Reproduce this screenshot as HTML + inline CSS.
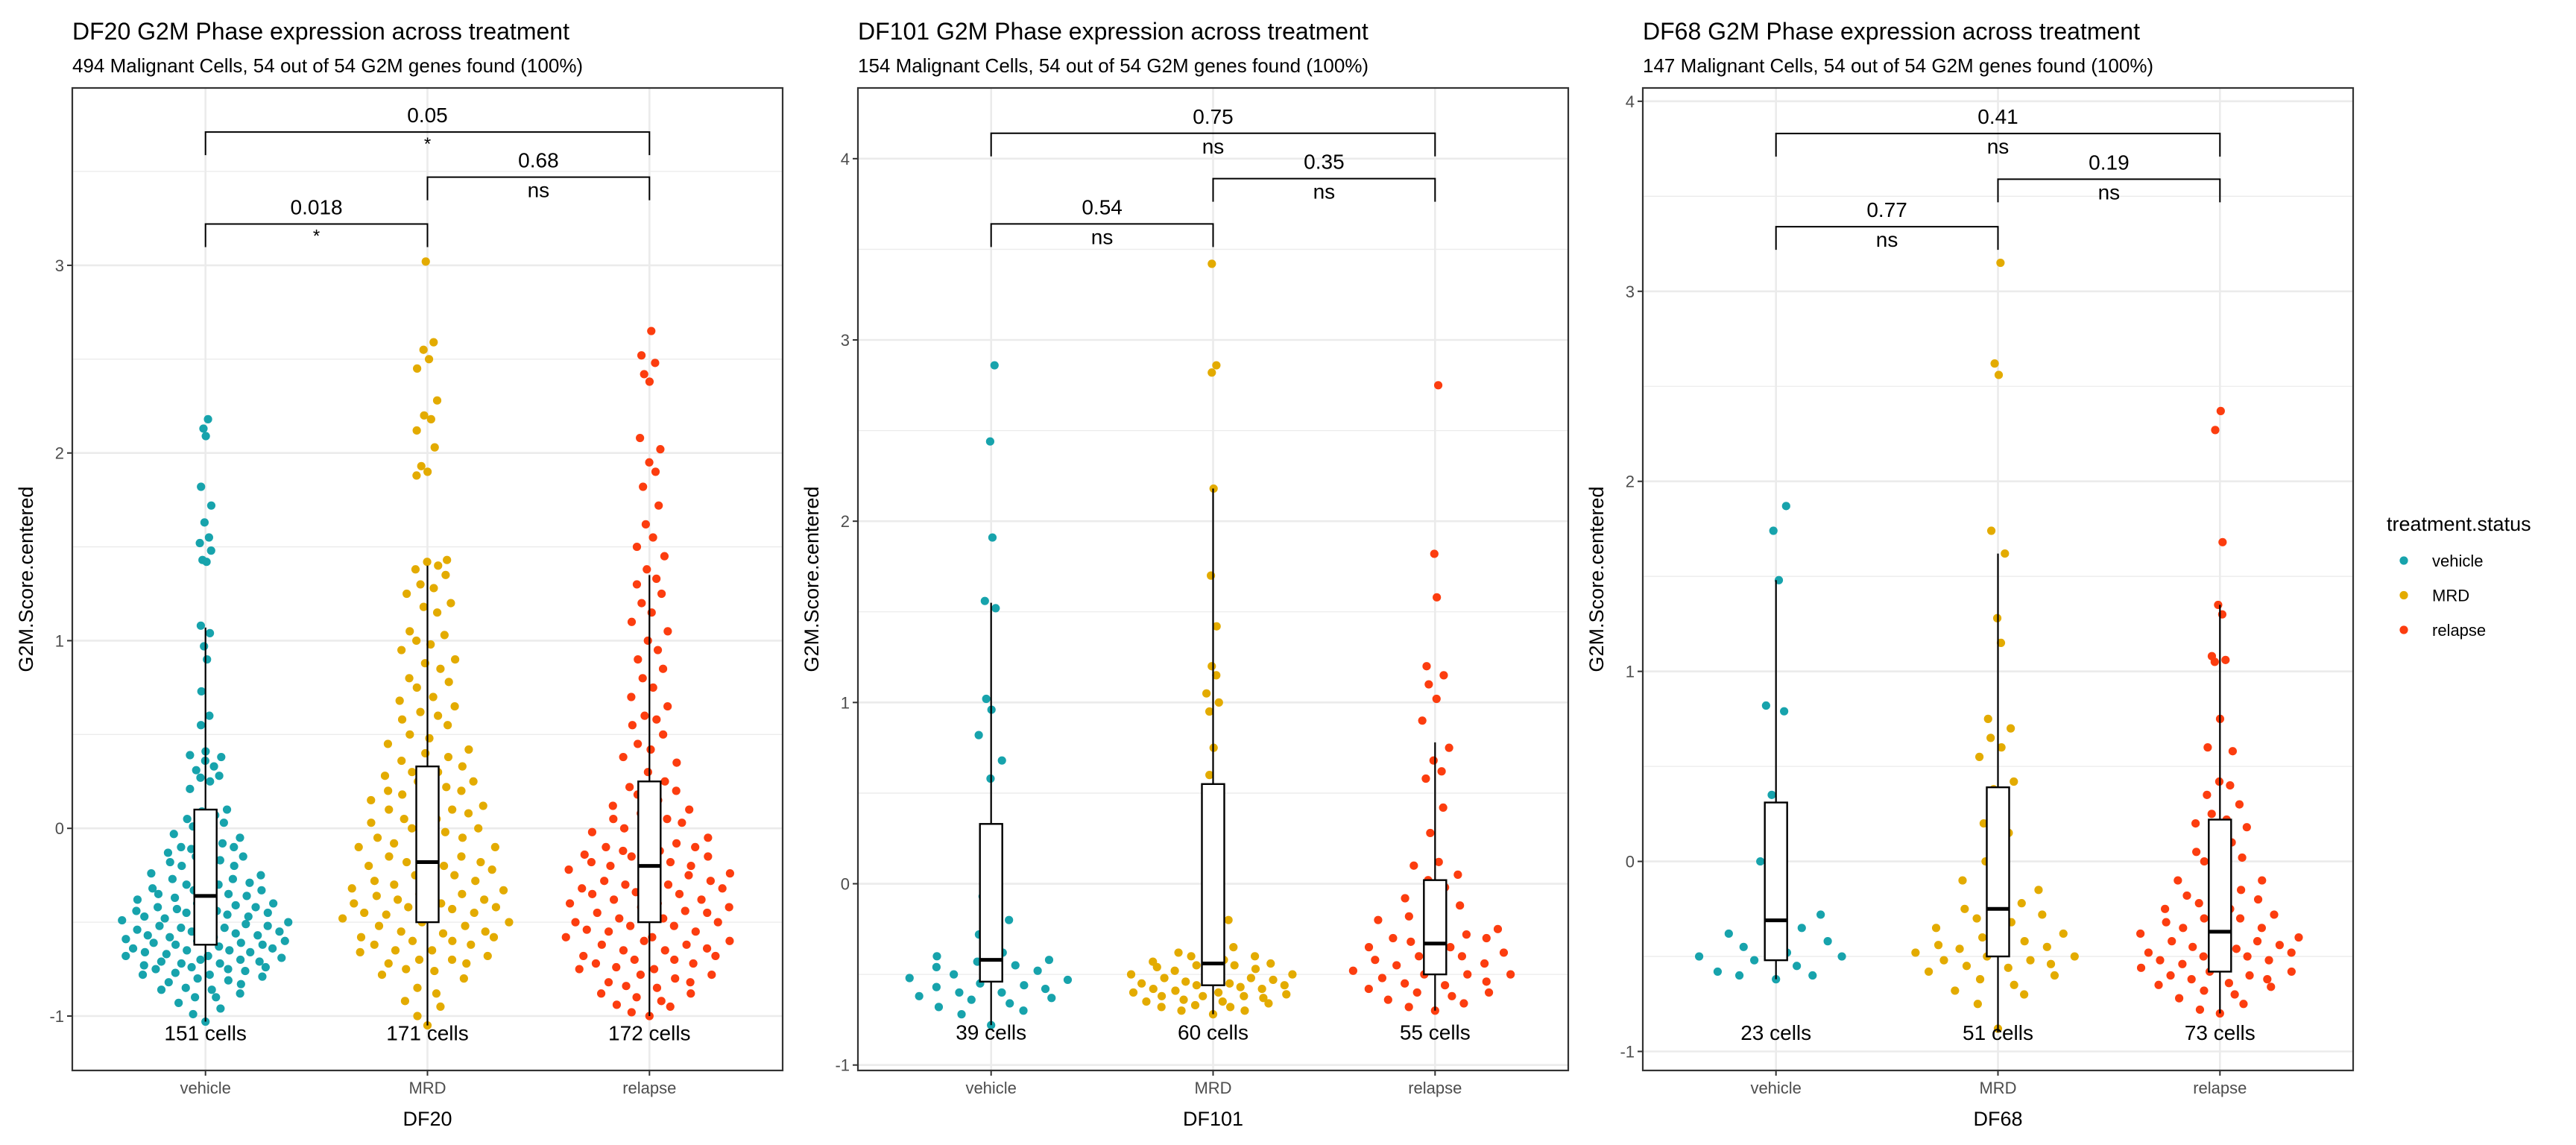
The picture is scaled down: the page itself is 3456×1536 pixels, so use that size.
<!DOCTYPE html>
<html><head><meta charset="utf-8">
<style>
html,body{margin:0;padding:0;background:#fff;}
svg{display:block;font-family:"Liberation Sans",Arial,sans-serif;}
</style></head>
<body>
<svg id="chart" width="3456" height="1536" viewBox="0 0 3456 1536" xmlns="http://www.w3.org/2000/svg"></svg>
<script>
// ---- data ----
const categories = ["vehicle","MRD","relapse"];
const panelNames = ["DF20","DF101","DF68"];
const titles = ["DF20 G2M Phase expression across treatment","DF101 G2M Phase expression across treatment","DF68 G2M Phase expression across treatment"];
const subtitles = ["494 Malignant Cells, 54 out of 54 G2M genes found (100%)","154 Malignant Cells, 54 out of 54 G2M genes found (100%)","147 Malignant Cells, 54 out of 54 G2M genes found (100%)"];
const cellCounts = [[151,171,172],[39,60,55],[23,51,73]];
const yTicks = [[-1,0,1,2,3],[-1,0,1,2,3,4],[-1,0,1,2,3,4]];
const yDomain = [[-1.29,3.945],[-1.03,4.39],[-1.10,4.07]];
const pVals = [["0.018","0.68","0.05"],["0.54","0.35","0.75"],["0.77","0.19","0.41"]];
const pSig = [["*","ns","*"],["ns","ns","ns"],["ns","ns","ns"]];
const bracketY = [[3.22,3.47,3.71],[3.64,3.89,4.14],[3.34,3.59,3.83]];
const cellLabelY = [-1.13,-0.86,-0.94];
// box stats: [whiskerLow, Q1, median, Q3, whiskerHigh]
const boxDF20 = [[-1.03,-0.62,-0.36,0.1,1.07],[-1.05,-0.5,-0.18,0.33,1.4],[-1.0,-0.5,-0.2,0.25,1.35]];
const boxDF101 = [[-0.78,-0.54,-0.42,0.33,1.55],[-0.72,-0.56,-0.44,0.55,2.18],[-0.7,-0.5,-0.33,0.02,0.78]];
const boxDF68 = [[-0.62,-0.52,-0.31,0.31,1.48],[-0.9,-0.5,-0.25,0.39,1.62],[-0.8,-0.58,-0.37,0.22,1.35]];
const df20Vehicle = [2.18,2.13,2.09,1.82,1.72,1.63,1.55,1.52,1.48,1.43,1.42,1.08,1.04,0.97,0.9,0.73,0.6,0.55,0.41,0.39,0.38,0.36,0.33,0.31,0.28,0.27,0.25,0.21,0.1,0.09,0.07,0.05,0.03,0.01,-0.01,-0.03,-0.06,-0.08,-0.1,-0.11,-0.13,-0.15,-0.17,-0.18,-0.2,-0.22,-0.24,-0.26,-0.27,-0.29,-0.3,-0.32,-0.33,-0.35,-0.36,-0.37,-0.38,-0.4,-0.41,-0.42,-0.43,-0.44,-0.45,-0.46,-0.47,-0.48,-0.49,-0.5,-0.51,-0.52,-0.53,-0.54,-0.55,-0.56,-0.57,-0.58,-0.59,-0.6,-0.61,-0.62,-0.63,-0.64,-0.65,-0.66,-0.67,-0.68,-0.69,-0.7,-0.71,-0.72,-0.73,-0.74,-0.75,-0.76,-0.77,-0.78,-0.79,-0.8,-0.81,-0.83,-0.85,-0.86,-0.88,-0.9,-0.93,-0.96,-0.99,-1.03,-0.35,-0.42,-0.45,-0.5,-0.55,-0.58,-0.6,-0.62,-0.66,-0.7,-0.72,-0.75,-0.4,-0.3,-0.2,-0.15,-0.48,-0.52,-0.64,-0.68,-0.78,-0.82,-0.25,-0.1,-0.05,-0.57,-0.61,-0.44,-0.38,-0.33,-0.12,-0.86,-0.9,-0.74,-0.53,-0.47,-0.27,-0.71,-0.65];
const df20MRD = [3.02,2.59,2.55,2.5,2.45,2.28,2.2,2.18,2.12,2.03,1.93,1.9,1.88,1.43,1.42,1.4,1.38,1.35,1.3,1.28,1.25,1.2,1.18,1.15,1.05,1.03,1.0,0.98,0.95,0.9,0.88,0.85,0.8,0.78,0.75,0.7,0.68,0.65,0.62,0.6,0.58,0.55,0.5,0.48,0.45,0.42,0.4,0.38,0.36,0.33,0.3,0.28,0.25,0.22,0.2,0.18,0.15,0.12,0.1,0.08,0.05,0.03,0.0,-0.02,-0.05,-0.08,-0.1,-0.12,-0.15,-0.18,-0.2,-0.22,-0.25,-0.28,-0.3,-0.32,-0.35,-0.38,-0.4,-0.42,-0.45,-0.48,-0.5,-0.52,-0.55,-0.58,-0.6,-0.62,-0.65,-0.68,-0.7,-0.72,-0.75,-0.78,-0.8,-0.85,-0.88,-0.92,-0.95,-1.0,-1.05,-0.3,-0.35,-0.4,-0.42,-0.45,-0.5,-0.55,-0.6,-0.62,-0.65,-0.7,-0.38,-0.28,-0.2,-0.15,-0.1,0.0,0.05,0.1,0.15,0.2,-0.48,-0.52,-0.58,-0.72,-0.25,-0.33,-0.43,-0.05,0.25,0.3,-0.18,-0.08,0.12,-0.36,-0.46,-0.56,-0.66,-0.76];
const df20Relapse = [2.65,2.52,2.48,2.42,2.38,2.08,2.02,1.95,1.9,1.82,1.72,1.62,1.55,1.5,1.45,1.38,1.33,1.3,1.25,1.2,1.15,1.1,1.05,1.0,0.95,0.9,0.85,0.8,0.75,0.7,0.65,0.6,0.58,0.55,0.5,0.45,0.42,0.38,0.35,0.3,0.25,0.2,0.15,0.1,0.05,0.03,0.0,-0.02,-0.05,-0.08,-0.1,-0.12,-0.15,-0.18,-0.2,-0.22,-0.25,-0.28,-0.3,-0.32,-0.35,-0.38,-0.4,-0.42,-0.45,-0.48,-0.5,-0.52,-0.55,-0.58,-0.6,-0.62,-0.65,-0.68,-0.7,-0.72,-0.75,-0.78,-0.8,-0.82,-0.85,-0.88,-0.9,-0.92,-0.95,-0.98,-1.0,-0.1,-0.15,-0.2,-0.25,-0.3,-0.35,-0.4,-0.45,-0.5,-0.55,-0.6,-0.65,-0.7,-0.75,-0.05,0.0,0.05,-0.12,-0.22,-0.32,-0.42,-0.52,-0.62,-0.72,-0.82,-0.18,-0.28,-0.38,-0.48,-0.58,-0.68,-0.78,-0.88,-0.14,-0.24,-0.34,-0.44,-0.54,-0.64,-0.74,-0.84,-0.94,0.08,0.12,0.18,0.22];
const df101Vehicle = [2.86,2.44,1.91,1.56,1.52,1.02,0.96,0.82,0.68,0.58,-0.03,-0.07,-0.2,-0.28,-0.38,-0.4,-0.42,-0.43,-0.45,-0.46,-0.48,-0.5,-0.5,-0.52,-0.53,-0.55,-0.56,-0.57,-0.58,-0.6,-0.6,-0.62,-0.63,-0.64,-0.66,-0.68,-0.7,-0.72,-0.78];
const df101MRD = [3.42,2.86,2.82,2.18,1.7,1.42,1.2,1.15,1.05,1.0,0.95,0.75,0.6,-0.2,-0.3,-0.35,-0.38,-0.4,-0.42,-0.43,-0.44,-0.45,-0.46,-0.47,-0.48,-0.48,-0.5,-0.5,-0.51,-0.52,-0.53,-0.54,-0.55,-0.55,-0.56,-0.57,-0.58,-0.58,-0.59,-0.6,-0.6,-0.61,-0.62,-0.62,-0.63,-0.64,-0.65,-0.65,-0.66,-0.67,-0.68,-0.68,-0.7,-0.7,-0.72,-0.45,-0.4,-0.52,-0.56,-0.62];
const df101Relapse = [2.75,1.82,1.58,1.2,1.15,1.1,1.02,0.9,0.75,0.68,0.62,0.58,0.42,0.28,0.12,0.1,0.05,0.02,-0.02,-0.08,-0.12,-0.18,-0.2,-0.25,-0.28,-0.3,-0.32,-0.35,-0.38,-0.4,-0.42,-0.44,-0.46,-0.48,-0.5,-0.5,-0.52,-0.54,-0.56,-0.58,-0.6,-0.62,-0.64,-0.66,-0.68,-0.7,-0.3,-0.35,-0.4,-0.45,-0.5,-0.55,-0.6,-0.25,-0.2];
const df68Vehicle = [1.87,1.74,1.48,0.82,0.79,0.35,0.1,0.0,-0.28,-0.32,-0.35,-0.38,-0.45,-0.48,-0.5,-0.52,-0.55,-0.58,-0.6,-0.6,-0.62,-0.5,-0.42];
const df68MRD = [3.15,2.62,2.56,1.74,1.62,1.28,1.15,0.75,0.7,0.65,0.6,0.55,0.42,0.38,0.25,0.2,0.15,0.0,-0.08,-0.1,-0.15,-0.2,-0.22,-0.25,-0.28,-0.3,-0.32,-0.35,-0.38,-0.4,-0.42,-0.44,-0.46,-0.48,-0.5,-0.5,-0.52,-0.54,-0.56,-0.58,-0.6,-0.62,-0.65,-0.68,-0.7,-0.75,-0.88,-0.45,-0.48,-0.52,-0.55];
const df68Relapse = [2.37,2.27,1.68,1.35,1.3,1.08,1.06,1.05,0.75,0.6,0.58,0.42,0.4,0.35,0.3,0.25,0.22,0.2,0.18,0.15,0.1,0.05,0.02,0.0,-0.05,-0.1,-0.12,-0.15,-0.2,-0.22,-0.25,-0.28,-0.3,-0.32,-0.35,-0.38,-0.4,-0.42,-0.44,-0.46,-0.48,-0.5,-0.52,-0.54,-0.56,-0.58,-0.6,-0.62,-0.64,-0.66,-0.68,-0.7,-0.72,-0.75,-0.78,-0.8,-0.35,-0.4,-0.45,-0.5,-0.55,-0.6,-0.65,-0.38,-0.42,-0.48,-0.52,-0.58,-0.62,-0.3,-0.25,-0.18,-0.1];

const panelData = [[df20Vehicle,df20MRD,df20Relapse],[df101Vehicle,df101MRD,df101Relapse],[df68Vehicle,df68MRD,df68Relapse]];
const panelBoxes = [boxDF20,boxDF101,boxDF68];
const colors = ["#17a3ac","#e3ab00","#fc3d0f"];

// ---- layout ----
const NS = "http://www.w3.org/2000/svg";
const svg = document.getElementById("chart");
const panelLeft = [97,1151,2204];
const PW = 953, PT = 118, PB = 1436;

function mk(tag, attrs, parent, text){
  const e = document.createElementNS(NS, tag);
  for (const k in attrs) e.setAttribute(k, attrs[k]);
  if (text !== undefined) e.textContent = text;
  (parent || svg).appendChild(e);
  return e;
}
function vdc(n){ let v=0, d=1; n=n+1; while(n>0){ d*=2; v += (n%2)/d; n=Math.floor(n/2);} return v; }

for (let p=0; p<3; p++){
  const L = panelLeft[p], R = L+PW;
  const [ymin,ymax] = yDomain[p];
  const ys = v => PB - (v-ymin)/(ymax-ymin)*(PB-PT);
  const unitX = PW/3.2;
  const xs = i => L + (i+0.6)*unitX;
  const g = mk("g",{});
  
  

  // titles
  const t = mk("text",{x:L,y:53,"font-size":32,fill:"#000"},g,titles[p]);
  
  
  const st = mk("text",{x:L,y:97,"font-size":26,fill:"#000"},g,subtitles[p]);
  
  

  // grid
  for (let v=Math.ceil(ymin*2)/2; v<=ymax; v+=0.5){
    const major = Math.abs(v-Math.round(v))<1e-6;
    const gl = mk("line",{x1:L,x2:R,y1:ys(v),y2:ys(v),stroke:"#ebebeb","stroke-width":major?2.6:1.3},g);
    
    
  }
  for (let i=0;i<3;i++){
    const gl = mk("line",{x1:xs(i),x2:xs(i),y1:PT,y2:PB,stroke:"#ebebeb","stroke-width":2.6},g);
    
    
  }

  // y ticks
  yTicks[p].forEach(v=>{
    const tk = mk("line",{x1:L-7,x2:L,y1:ys(v),y2:ys(v),stroke:"#333","stroke-width":2},g);
    
    
    const tl = mk("text",{x:L-11,y:ys(v)+8,"font-size":22,fill:"#4d4d4d","text-anchor":"end"},g,String(v));
    
    
  });

  // points
  panelData[p].forEach((vals,ci)=>{
    const bw = 0.15, maxW = 118;
    const dens = y => vals.reduce((s,v)=>s+Math.exp(-0.5*((y-v)/bw)**2),0);
    let md = 0; vals.forEach(v=>{ md=Math.max(md,dens(v)); });
    const order = vals.map((v,i)=>[v,i]).sort((a,b)=>a[0]-b[0]);
    order.forEach((o,rank)=>{
      const v = o[0];
      const w = maxW*dens(v)/md;
      const off = (vdc(rank)-0.5)*2*w;
      const c = mk("circle",{cx:xs(ci)+off,cy:ys(v),r:5.6,fill:colors[ci]},g);
      
      
    });
  });

  // boxplots
  panelBoxes[p].forEach((b,ci)=>{
    const cx = xs(ci), hw = 15;
    const wl = mk("line",{x1:cx,x2:cx,y1:ys(b[0]),y2:ys(b[1]),stroke:"#000","stroke-width":2.2},g);
    
    
    const wu = mk("line",{x1:cx,x2:cx,y1:ys(b[3]),y2:ys(b[4]),stroke:"#000","stroke-width":2.2},g);
    
    
    const rb = mk("rect",{x:cx-hw,y:ys(b[3]),width:2*hw,height:ys(b[1])-ys(b[3]),fill:"#fff",stroke:"#000","stroke-width":2.4},g);
    
    
    const ml = mk("line",{x1:cx-hw,x2:cx+hw,y1:ys(b[2]),y2:ys(b[2]),stroke:"#000","stroke-width":5},g);
    
    
  });

  // cell count labels
  cellCounts[p].forEach((n,ci)=>{
    const cl = mk("text",{x:xs(ci),y:ys(cellLabelY[p]),"font-size":28,fill:"#000","text-anchor":"middle"},g,n+" cells");
    
    
  });

  // brackets: [vehicle-MRD, MRD-relapse, vehicle-relapse]
  const pairs = [[0,1],[1,2],[0,2]];
  const unitY = (PB-PT)/(ymax-ymin);
  pairs.forEach((pr,k)=>{
    const y = ys(bracketY[p][k]), x1 = xs(pr[0]), x2 = xs(pr[1]);
    const br = mk("path",{d:`M${x1},${y+31} V${y} H${x2} V${y+31}`,fill:"none",stroke:"#000","stroke-width":2},g);
    
    
    const pl = mk("text",{x:(x1+x2)/2,y:y-13,"font-size":28,fill:"#000","text-anchor":"middle"},g,pVals[p][k]);
    
    
    const sig = pSig[p][k];
    const sl = mk("text",{x:(x1+x2)/2,y:sig==="*"?y+24:y+27,"font-size":sig==="*"?24:28,fill:"#000","text-anchor":"middle"},g,sig);
    
    
  });

  // panel border
  const bd = mk("rect",{x:L,y:PT,width:PW,height:PB-PT,fill:"none",stroke:"#333","stroke-width":2.2},g);
  
  

  // x ticks & labels
  categories.forEach((c,ci)=>{
    const tk = mk("line",{x1:xs(ci),x2:xs(ci),y1:PB,y2:PB+7,stroke:"#333","stroke-width":2},g);
    
    
    const tl = mk("text",{x:xs(ci),y:1467,"font-size":22,fill:"#4d4d4d","text-anchor":"middle"},g,c);
    
    
  });
  const xt = mk("text",{x:(L+R)/2,y:1510,"font-size":27,fill:"#000","text-anchor":"middle"},g,panelNames[p]);
  
  
  const yc = (PT+PB)/2, yx = L-53;
  const yt = mk("text",{x:yx,y:yc,"font-size":27,fill:"#000","text-anchor":"middle",transform:`rotate(-90 ${yx} ${yc})`},g,"G2M.Score.centered");
  
  
}

// legend
const lg = mk("g",{});


const ltitle = mk("text",{x:3202,y:712,"font-size":27,fill:"#000"},lg,"treatment.status");


categories.forEach((c,ci)=>{
  const y = 752 + ci*46.5;
  const d = mk("circle",{cx:3225,cy:y,r:5.6,fill:colors[ci]},lg);
  
  
  const t = mk("text",{x:3263,y:y+8,"font-size":22,fill:"#000"},lg,c);
  
  
});
</script>
</body></html>
